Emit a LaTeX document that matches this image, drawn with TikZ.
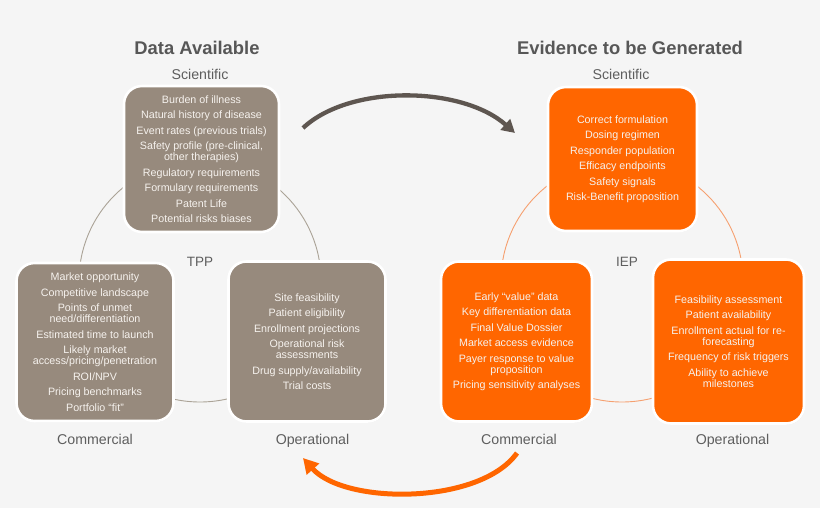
\documentclass[tikz,border=0pt]{standalone}
\usepackage{fontspec}
\setmainfont{Liberation Sans}
\usetikzlibrary{arrows.meta,shadows}
\definecolor{bg}{HTML}{F5F5F5}
\definecolor{brownbox}{HTML}{978A7D}
\definecolor{orangebox}{HTML}{FF6600}
\definecolor{titlegray}{HTML}{575757}
\definecolor{labelgray}{HTML}{5E5E5E}
\definecolor{arrowgray}{HTML}{5E5650}
\definecolor{ringgray}{HTML}{ABA397}
\definecolor{ringorange}{HTML}{F5A070}
\definecolor{boxtext}{HTML}{F6F2EE}
\begin{document}
\begin{tikzpicture}[x=1pt,y=-1pt,
  box/.style={draw=white, line width=2.6pt, rounded corners=18pt, align=center,
    text=boxtext, font=\fontsize{10.7}{11}\selectfont, inner sep=0pt,
    drop shadow={opacity=0.18, shadow xshift=0.8pt, shadow yshift=-1pt}},
  brownb/.style={box, fill=brownbox},
  orangeb/.style={box, fill=orangebox},
  titletext/.style={anchor=base, font=\fontsize{18.4}{20}\selectfont\bfseries, text=titlegray},
  lab/.style={anchor=base, font=\fontsize{14.2}{16}\selectfont, text=labelgray},
  midlab/.style={anchor=base, font=\fontsize{13.5}{15}\selectfont, text=labelgray},
  ring/.style={line width=0.9pt}
]
\useasboundingbox (0,0) rectangle (820,508);
\fill[bg] (0,0) rectangle (820,508);

% rings
\draw[ring, ringgray] (200,281) circle [radius=121pt];
\draw[ring, ringorange] (622,281) circle [radius=121pt];

% titles and labels
\node[titletext] (t1) at (197,55) {Data Available};
\node[titletext] (t2) at (630,55) {Evidence to be Generated};
\node[lab] (s1) at (200,80) {Scientific};
\node[lab] (s2) at (621,80) {Scientific};
\node[lab] (c1) at (95,444) {Commercial};
\node[lab] (o1) at (312.5,444) {Operational};
\node[lab] (c2) at (519,444) {Commercial};
\node[lab] (o2) at (732.5,444) {Operational};
\node[midlab] (tpp) at (200,266) {TPP};
\node[midlab] (iep) at (627,266) {IEP};

% left boxes
\node[brownb, minimum width=155pt, minimum height=146pt] (ls) at (201.5,159)
 {Burden of illness\\[4.5pt]
  Natural history of disease\\[4.5pt]
  Event rates (previous trials)\\[4.5pt]
  Safety profile (pre-clinical,\\ other therapies)\\[4.5pt]
  Regulatory requirements\\[4.5pt]
  Formulary requirements\\[4.5pt]
  Patent Life\\[4.5pt]
  Potential risks biases};
\node[brownb, minimum width=157pt, minimum height=158pt] (lc) at (95,342)
 {Market opportunity\\[4.5pt]
  Competitive landscape\\[4.5pt]
  Points of unmet\\ need/differentiation\\[4.5pt]
  Estimated time to launch\\[4.5pt]
  Likely market\\ access/pricing/penetration\\[4.5pt]
  ROI/NPV\\[4.5pt]
  Pricing benchmarks\\[4.5pt]
  Portfolio “fit”};
\node[brownb, minimum width=157pt, minimum height=160pt] (lo) at (307,341.5)
 {Site feasibility\\[4.5pt]
  Patient eligibility\\[4.5pt]
  Enrollment projections\\[4.5pt]
  Operational risk\\ assessments\\[4.5pt]
  Drug supply/availability\\[4.5pt]
  Trial costs};

% right boxes
\node[orangeb, minimum width=149pt, minimum height=144pt] (rs) at (622.5,159)
 {Correct formulation\\[4.5pt]
  Dosing regimen\\[4.5pt]
  Responder population\\[4.5pt]
  Efficacy endpoints\\[4.5pt]
  Safety signals\\[4.5pt]
  Risk-Benefit proposition};
\node[orangeb, minimum width=151pt, minimum height=160pt] (rc) at (516.5,341.5)
 {Early “value” data\\[4.5pt]
  Key differentiation data\\[4.5pt]
  Final Value Dossier\\[4.5pt]
  Market access evidence\\[4.5pt]
  Payer response to value\\ proposition\\[4.5pt]
  Pricing sensitivity analyses};
\node[orangeb, minimum width=151pt, minimum height=164pt] (ro) at (728.5,341.5)
 {Feasibility assessment\\[4.5pt]
  Patient availability\\[4.5pt]
  Enrollment actual for re-\\ forecasting\\[4.5pt]
  Frequency of risk triggers\\[4.5pt]
  Ability to achieve\\ milestones};

% arrows
\coordinate (ga) at (303,128);
\coordinate (gb) at (515,133);
\draw[arrowgray, line width=4.3pt, -{Triangle[length=13pt,width=14pt]}]
  (ga) .. controls (350,84) and (462,86) .. (gb);
\coordinate (oa) at (517,453);
\coordinate (ob) at (303,458);
\draw[orangebox, line width=5pt, -{Triangle[length=15pt,width=16pt]}]
  (oa) .. controls (480,505) and (345,505) .. (ob);
\end{tikzpicture}
\end{document}
